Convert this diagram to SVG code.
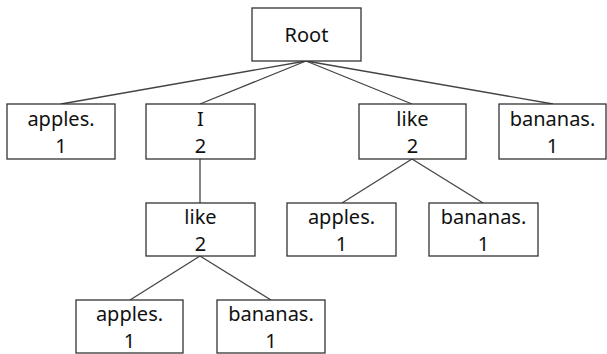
<svg xmlns="http://www.w3.org/2000/svg" width="607" height="354" viewBox="0 0 607 354">
  <style>
    .box rect { fill: #ffffff; stroke: #333333; stroke-width: 1.3; }
    .box text { font-family: "Noto Sans", "DejaVu Sans", sans-serif; font-size: 20px; fill: #111111; text-anchor: middle; }
    #edges line { stroke: #444444; stroke-width: 1.3; }
  </style>
  <rect width="607" height="354" fill="#ffffff"/>

  <g id="edges">
    <line x1="306" y1="61" x2="61" y2="104"/>
    <line x1="306" y1="61" x2="200" y2="104"/>
    <line x1="306" y1="61" x2="412" y2="104"/>
    <line x1="306" y1="61" x2="553" y2="104"/>
    <line x1="200" y1="159" x2="200" y2="203"/>
    <line x1="200" y1="256" x2="130" y2="300"/>
    <line x1="200" y1="256" x2="271" y2="300"/>
    <line x1="412" y1="159" x2="342" y2="203"/>
    <line x1="412" y1="159" x2="483" y2="203"/>
  </g>

  <g id="root" class="box">
    <rect x="252" y="8" width="109" height="53"/>
    <text x="306.5" y="42">Root</text>
  </g>

  <g id="apples-top" class="box">
    <rect x="7" y="104" width="108" height="55"/>
    <text x="61" y="126">apples.</text>
    <text x="61" y="153">1</text>
  </g>

  <g id="i" class="box">
    <rect x="146" y="104" width="109" height="55"/>
    <text x="200.5" y="126">I</text>
    <text x="200.5" y="153">2</text>
  </g>

  <g id="like-top" class="box">
    <rect x="359" y="104" width="107" height="55"/>
    <text x="412.5" y="126">like</text>
    <text x="412.5" y="153">2</text>
  </g>

  <g id="bananas-top" class="box">
    <rect x="499" y="104" width="107" height="55"/>
    <text x="552.5" y="126">bananas.</text>
    <text x="552.5" y="153">1</text>
  </g>

  <g id="i-like" class="box">
    <rect x="146" y="203" width="109" height="53"/>
    <text x="200.5" y="224">like</text>
    <text x="200.5" y="251">2</text>
  </g>

  <g id="like-apples" class="box">
    <rect x="287" y="203" width="109" height="53"/>
    <text x="341.5" y="224">apples.</text>
    <text x="341.5" y="251">1</text>
  </g>

  <g id="like-bananas" class="box">
    <rect x="429" y="203" width="109" height="53"/>
    <text x="483.5" y="224">bananas.</text>
    <text x="483.5" y="251">1</text>
  </g>

  <g id="i-like-apples" class="box">
    <rect x="76" y="300" width="107" height="53"/>
    <text x="129.5" y="321">apples.</text>
    <text x="129.5" y="348">1</text>
  </g>

  <g id="i-like-bananas" class="box">
    <rect x="217" y="300" width="108" height="53"/>
    <text x="271" y="321">bananas.</text>
    <text x="271" y="348">1</text>
  </g>
</svg>
